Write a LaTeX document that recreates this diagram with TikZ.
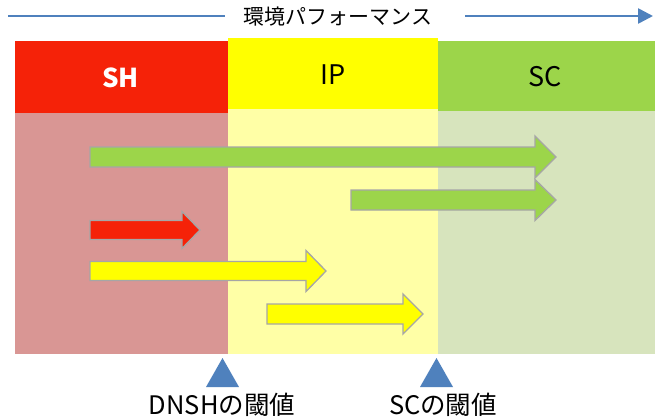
\documentclass[tikz,border=0pt]{standalone}
\usepackage{fontspec}
\setmainfont{Noto Sans CJK JP}
\usetikzlibrary{arrows.meta}
\definecolor{hdrred}{HTML}{F52208}
\definecolor{hdryel}{HTML}{FFFF00}
\definecolor{hdrgrn}{HTML}{9CD54A}
\definecolor{bodyred}{HTML}{D99694}
\definecolor{bodyyel}{HTML}{FFFFA6}
\definecolor{bodygrn}{HTML}{D7E4BD}
\definecolor{outl}{HTML}{A6A6A6}
\definecolor{axisblue}{HTML}{4F81BD}
\newcommand{\fatarr}[7]{% left, yc, shaft half, head half, base, tip, colour
  \filldraw[fatstyle, fill=#7] (#1,#2-#3) -- (#5,#2-#3) -- (#5,#2-#4) -- (#6,#2) -- (#5,#2+#4) -- (#5,#2+#3) -- (#1,#2+#3) -- cycle;}
\begin{document}
\begin{tikzpicture}[x=1pt,y=-1pt,
  fatstyle/.style={draw=outl, line width=1.3pt, line join=miter},
  hdrtext/.style={font=\fontsize{27}{31}\selectfont, inner sep=0pt},
  lbl/.style={font=\fontsize{25.5}{29}\selectfont, inner sep=0pt},
  axis/.style={draw=axisblue, line width=2.6pt}]
\useasboundingbox (0,0) rectangle (656,418);
\fill[white] (0,0) rectangle (656,418);
% bodies
\fill[bodyred] (15,113) rectangle (228,354);
\fill[bodyyel] (228,109) rectangle (438,354);
\fill[bodygrn] (438,111) rectangle (655,354);
% headers
\fill[hdrred] (15,41) rectangle (228,113);
\fill[hdryel] (228,38) rectangle (438,109);
\fill[hdrgrn] (438,41) rectangle (655,111);
\node[hdrtext, text=white, font=\fontsize{26}{30}\selectfont\bfseries] (sh) at (120.5,77.5) {SH};
\node[hdrtext] (ip) at (333,75) {IP};
\node[hdrtext] (sc) at (545.5,76.5) {SC};
% top axis
\node[lbl, font=\fontsize{21}{25}\selectfont] (perf) at (338,17) {環境パフォーマンス};
\coordinate (a0) at (8,16);
\coordinate (a1) at (225,16);
\coordinate (a2) at (465,16);
\coordinate (a3) at (653,16);
\draw[axis] (a0) -- (a1);
\draw[axis, -{Triangle[length=15pt,width=15pt]}] (a2) -- (a3);
% fat arrows
\fatarr{90}{157}{10}{21}{535}{556}{hdrgrn}
\fatarr{351}{200}{10}{20.5}{535}{556}{hdrgrn}
\fatarr{90}{230}{9.5}{18.5}{182}{200}{hdrred}
\fatarr{90}{271}{9.5}{20.5}{306}{326}{hdryel}
\fatarr{267}{314}{10}{20}{403}{423}{hdryel}
% thresholds
\fill[axisblue] (206,387) -- (239,387) -- (222.5,358) -- cycle;
\fill[axisblue] (420,387) -- (453,387) -- (436.5,358) -- cycle;
\node[lbl] (dnsh) at (222,405) {DNSHの閾値};
\node[lbl] (scth) at (443,405) {SCの閾値};
\end{tikzpicture}
\end{document}
